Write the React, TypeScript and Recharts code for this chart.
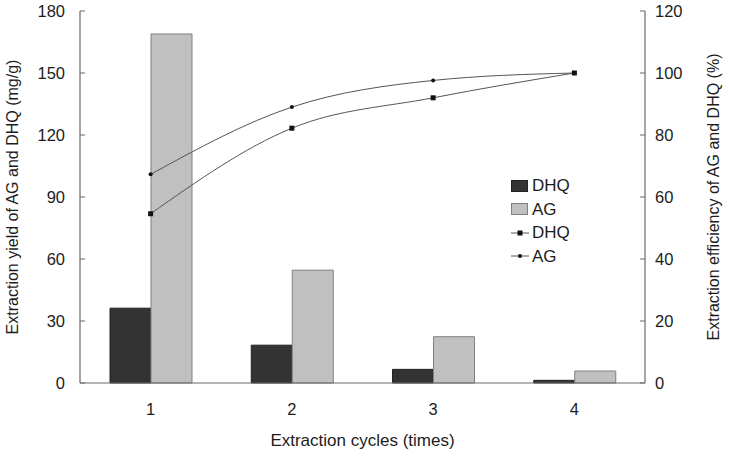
import {
  Bar,
  ComposedChart,
  Line,
  XAxis,
  YAxis,
} from "recharts";

const cycles = [1, 2, 3, 4];
const dhqYield = [36.2, 18.3, 6.6, 1.3];
const agYield = [168.9, 54.6, 22.4, 5.8];
const dhqEfficiency = [54.6, 82.2, 92.0, 100];
const agEfficiency = [67.3, 89.0, 97.6, 100];
const leftTicks = [0, 30, 60, 90, 120, 150, 180];
const rightTicks = [0, 20, 40, 60, 80, 100, 120];
const boundaryTicks = [1, 2, 3];

const FONT = "Arial, 'Liberation Sans', sans-serif";
const TEXT = "#1c1c1c";
const AXIS = "#6a6a6a";
const LINE = "#555555";
const DHQ_FILL = "#333333";
const AG_FILL = "#c0c0c0";

const data = cycles.map((cycle, i) => ({
  cycle,
  dhqYield: dhqYield[i],
  agYield: agYield[i],
  dhqEff: dhqEfficiency[i],
  agEff: agEfficiency[i],
}));

const tickStyle = { fontSize: 16.5, fill: TEXT, fontFamily: FONT };

/** small square marker for the DHQ efficiency curve */
function SquareDot(props: any) {
  const { cx, cy, key } = props;
  if (cx == null || cy == null) return null;
  return <rect key={key} x={cx - 2.5} y={cy - 2.5} width={5} height={5} fill="#111" />;
}

/** small round marker for the AG efficiency curve */
function RoundDot(props: any) {
  const { cx, cy, key } = props;
  if (cx == null || cy == null) return null;
  return <circle key={key} cx={cx} cy={cy} r={2} fill="#111" />;
}

function RotatedLabel({ viewBox, value, dx }: any) {
  if (!viewBox) return null;
  const x = viewBox.x + dx;
  const y = viewBox.y + viewBox.height / 2;
  return (
    <text
      transform={`translate(${x},${y}) rotate(-90)`}
      textAnchor="middle"
      fontSize={16}
      fill={TEXT}
      fontFamily={FONT}
    >
      {value}
    </text>
  );
}

function BottomLabel({ viewBox }: any) {
  if (!viewBox) return null;
  return (
    <text
      x={viewBox.x + viewBox.width / 2}
      y={viewBox.y + 63}
      textAnchor="middle"
      fontSize={17}
      fill={TEXT}
      fontFamily={FONT}
    >
      Extraction cycles (times)
    </text>
  );
}

function LegendBox() {
  const rows = [
    { label: "DHQ", kind: "bar", fill: DHQ_FILL, stroke: "#222" },
    { label: "AG", kind: "bar", fill: AG_FILL, stroke: "#808080" },
    { label: "DHQ", kind: "square" },
    { label: "AG", kind: "circle" },
  ];
  return (
    <div
      style={{
        position: "absolute",
        left: 510,
        top: 174,
        fontFamily: FONT,
        fontSize: 17,
        color: TEXT,
        lineHeight: "23px",
      }}
    >
      {rows.map((r, i) => (
        <div key={i} style={{ display: "flex", alignItems: "center", height: 23.5 }}>
          <svg width={20} height={14} style={{ marginRight: 2 }}>
            {r.kind === "bar" ? (
              <rect x={1.5} y={1.5} width={16} height={11} fill={r.fill} stroke={r.stroke} />
            ) : (
              <>
                <line x1={1} y1={7} x2={19} y2={7} stroke={LINE} strokeWidth={1} />
                {r.kind === "square" ? (
                  <rect x={7.5} y={4.5} width={5} height={5} fill="#111" />
                ) : (
                  <circle cx={10} cy={7} r={2} fill="#111" />
                )}
              </>
            )}
          </svg>
          <span>{r.label}</span>
        </div>
      ))}
    </div>
  );
}

export default function App() {
  return (
    <div style={{ position: "absolute", left: 0, top: 0, width: 729, height: 458, background: "#fff" }}>
      <ComposedChart
        width={729}
        height={458}
        data={data}
        margin={{ top: 11, right: 0, bottom: 0, left: 0 }}
        barGap={0}
      >
        {/* inward tick marks between the cycles */}
        <XAxis
          xAxisId="num"
          dataKey="cycle"
          type="number"
          domain={[0, 4]}
          ticks={boundaryTicks}
          height={0}
          axisLine={false}
          tickSize={-5}
          tickLine={{ stroke: AXIS }}
          tick={false}
        />
        <XAxis
          xAxisId="cat"
          dataKey="cycle"
          type="category"
          height={75}
          axisLine={{ stroke: AXIS, strokeWidth: 1.2 }}
          tickLine={false}
          tickSize={0}
          tickMargin={20}
          tick={tickStyle}
          label={<BottomLabel />}
        />
        <XAxis
          xAxisId="top"
          dataKey="cycle"
          orientation="top"
          height={0}
          axisLine={{ stroke: AXIS, strokeWidth: 1.2 }}
          tick={false}
          tickLine={false}
        />
        <YAxis
          yAxisId="left"
          width={80}
          domain={[0, 180]}
          ticks={leftTicks}
          axisLine={{ stroke: AXIS, strokeWidth: 1.2 }}
          tickLine={{ stroke: AXIS }}
          tickSize={-5}
          tickMargin={20}
          tick={tickStyle}
          label={<RotatedLabel value="Extraction yield of AG and DHQ (mg/g)" dx={18} />}
        />
        <YAxis
          yAxisId="right"
          orientation="right"
          width={84}
          domain={[0, 120]}
          ticks={rightTicks}
          axisLine={{ stroke: AXIS, strokeWidth: 1.2 }}
          tickLine={{ stroke: AXIS }}
          tickSize={-5}
          tickMargin={15}
          tick={tickStyle}
          label={<RotatedLabel value="Extraction efficiency of AG and DHQ (%)" dx={74} />}
        />

        <Bar
          xAxisId="cat"
          yAxisId="left"
          dataKey="dhqYield"
          name="DHQ"
          barSize={41}
          fill={DHQ_FILL}
          stroke="#222"
          strokeWidth={1}
          isAnimationActive={false}
        />
        <Bar
          xAxisId="cat"
          yAxisId="left"
          dataKey="agYield"
          name="AG"
          barSize={41}
          fill={AG_FILL}
          stroke="#808080"
          strokeWidth={1}
          isAnimationActive={false}
        />
        <Line
          xAxisId="cat"
          yAxisId="right"
          type="monotone"
          dataKey="dhqEff"
          name="DHQ"
          stroke={LINE}
          strokeWidth={1}
          dot={<SquareDot />}
          activeDot={false}
          isAnimationActive={false}
        />
        <Line
          xAxisId="cat"
          yAxisId="right"
          type="monotone"
          dataKey="agEff"
          name="AG"
          stroke={LINE}
          strokeWidth={1}
          dot={<RoundDot />}
          activeDot={false}
          isAnimationActive={false}
        />
      </ComposedChart>
      <LegendBox />
    </div>
  );
}
